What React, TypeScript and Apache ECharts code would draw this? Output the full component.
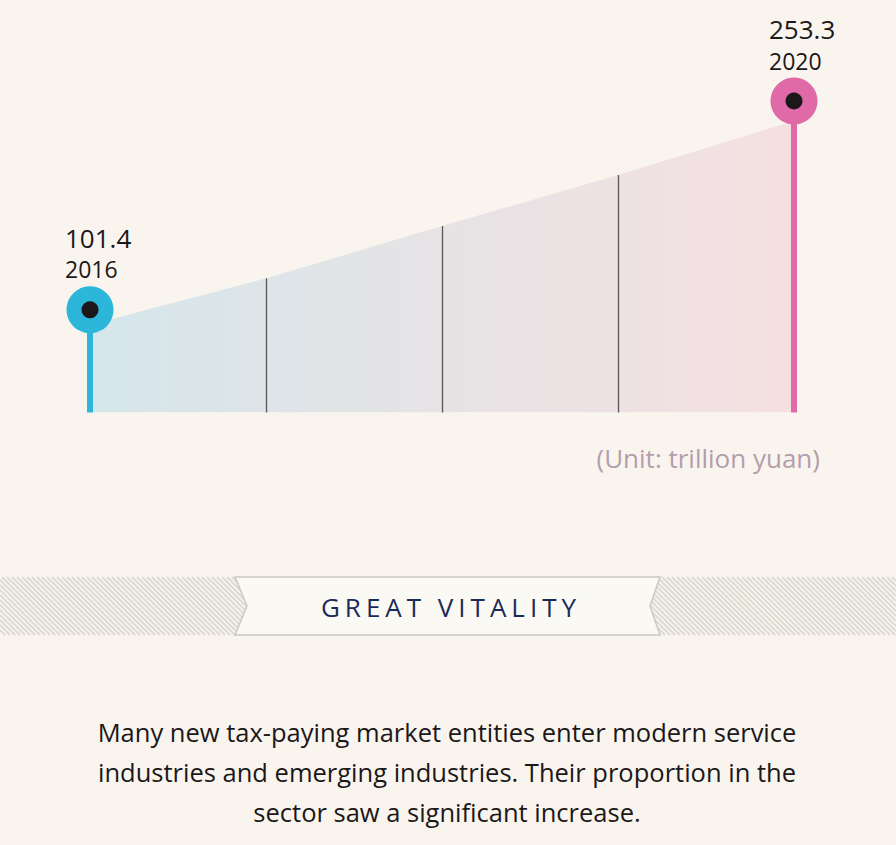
import React, { useEffect, useRef } from "react";
import * as echarts from "echarts";

const years = ["2016", "2017", "2018", "2019", "2020"];
const values = [101.4, 136, 175, 213, 253.3];
const yMin = 36;
const yMax = 270;
const unitText = "(Unit: trillion yuan)";
const bannerTitle = "GREAT VITALITY";
const bodyLines = [
  "Many new tax-paying market entities enter modern service",
  "industries and emerging industries. Their proportion in the",
  "sector saw a significant increase.",
];

const FONT = "'Open Sans', 'Noto Sans', sans-serif";
const BG = "#f9f5ee";
const CYAN = "#2bb6da";
const PINK = "#e06aa8";
const DARK = "#1c1819";

function buildStripes(xa: number, xb: number, top: number, bottom: number) {
  const h = bottom - top;
  const out: any[] = [];
  for (let c = xa - h - 5; c <= xb; c += 5) {
    const t0 = Math.max(0, xa - c);
    const t1 = Math.min(h, xb - c);
    if (t1 <= t0) continue;
    out.push({
      type: "line",
      silent: true,
      shape: { x1: c + t0, y1: top + t0, x2: c + t1, y2: top + t1 },
      style: { stroke: "#dcdad3", lineWidth: 1.8 },
    });
  }
  return out;
}

export default function App() {
  const ref = useRef<HTMLDivElement>(null);
  useEffect(() => {
    if (!ref.current) return;
    const chart = echarts.init(ref.current, undefined, { renderer: "svg" });
    const last = years.length - 1;
    const ends = [0, last];
    const endColors = [CYAN, PINK];
    const endOffsets = [-15, -20];

    const markData = years.map((y, i) => {
      const isEnd = i === 0 || i === last;
      return [
        {
          coord: [y, yMin],
          lineStyle: isEnd
            ? { color: i === 0 ? CYAN : PINK, width: 6, type: "solid" }
            : { color: "#5a5656", width: 1.3, type: "solid" },
        },
        { coord: [y, values[i]] },
      ];
    });

    const outer = ends.map((idx, k) => ({
      value: [years[idx], values[idx]],
      symbolOffset: [0, endOffsets[k]],
      itemStyle: { color: endColors[k], opacity: 1 },
      label: {
        show: true,
        position: "top",
        distance: 2,
        align: "left",
        offset: [-25, 0],
        formatter: `{v|${values[idx]}}\n{y|${years[idx]}}`,
        rich: {
          v: { fontSize: 26, fontFamily: FONT, color: DARK, lineHeight: 33, align: "left" },
          y: { fontSize: 23, fontFamily: FONT, color: DARK, lineHeight: 30, align: "left" },
        },
      },
    }));
    const inner = ends.map((idx, k) => ({
      value: [years[idx], values[idx]],
      symbolOffset: [0, endOffsets[k]],
    }));

    const bTop = 577;
    const bBot = 635;
    const bMid = 606;
    const graphics: any[] = [
      ...buildStripes(0, 247, bTop, bBot),
      ...buildStripes(650, 896, bTop, bBot),
      {
        type: "polygon",
        silent: true,
        shape: {
          points: [
            [235, bTop],
            [660, bTop],
            [650, bMid],
            [660, bBot],
            [235, bBot],
            [247, bMid],
          ],
        },
        style: { fill: "#fbf9f4", stroke: "#c9c8c2", lineWidth: 1.5 },
      },
      {
        type: "text",
        silent: true,
        x: 451,
        y: 607,
        style: {
          text: bannerTitle,
          fontSize: 26,
          fontFamily: FONT,
          fill: "#1b2b58",
          align: "center",
          verticalAlign: "middle",
        },
      },
      {
        type: "text",
        silent: true,
        x: 820,
        y: 458,
        style: {
          text: unitText,
          fontSize: 26,
          fontFamily: FONT,
          fill: "#b39eab",
          align: "right",
          verticalAlign: "middle",
        },
      },
      ...bodyLines.map((line, i) => ({
        type: "text",
        silent: true,
        x: 447,
        y: 732 + i * 40,
        style: {
          text: line,
          fontSize: 25.5,
          fontFamily: FONT,
          fill: DARK,
          align: "center",
          verticalAlign: "middle",
        },
      })),
    ];

    chart.setOption({
      animation: false,
      backgroundColor: BG,
      grid: { left: 90, right: 102, top: 98.6, bottom: 432.5 },
      xAxis: {
        type: "category",
        data: years,
        boundaryGap: false,
        show: false,
      },
      yAxis: {
        type: "value",
        min: yMin,
        max: yMax,
        show: false,
        splitLine: { show: false },
      },
      graphic: graphics,
      series: [
        {
          type: "line",
          data: values,
          symbol: "none",
          lineStyle: { width: 0, opacity: 0 },
          areaStyle: {
            opacity: 1,
            color: new echarts.graphic.LinearGradient(0, 0, 1, 0, [
              { offset: 0, color: "#d5e6eb" },
              { offset: 0.5, color: "#e6e3e5" },
              { offset: 1, color: "#f5e0e1" },
            ]),
          },
          markLine: {
            silent: true,
            symbol: ["none", "none"],
            label: { show: false },
            data: markData,
          },
          z: 2,
        },
        {
          type: "scatter",
          data: outer,
          symbol: "circle",
          symbolSize: 47,
          z: 5,
          silent: true,
        },
        {
          type: "scatter",
          data: inner,
          symbol: "circle",
          symbolSize: 17,
          itemStyle: { color: DARK, opacity: 1 },
          z: 6,
          silent: true,
        },
      ],
    });

    const applySpacing = () => {
      if (!ref.current) return;
      ref.current.querySelectorAll("text").forEach((t) => {
        if (t.textContent === bannerTitle) t.setAttribute("letter-spacing", "5");
      });
    };
    applySpacing();
    chart.on("finished", applySpacing);
    const timer = setTimeout(applySpacing, 50);

    return () => {
      clearTimeout(timer);
      chart.dispose();
    };
  }, []);

  return (
    <div
      ref={ref}
      style={{ position: "fixed", left: 0, top: 0, width: 896, height: 845, background: BG }}
    />
  );
}
